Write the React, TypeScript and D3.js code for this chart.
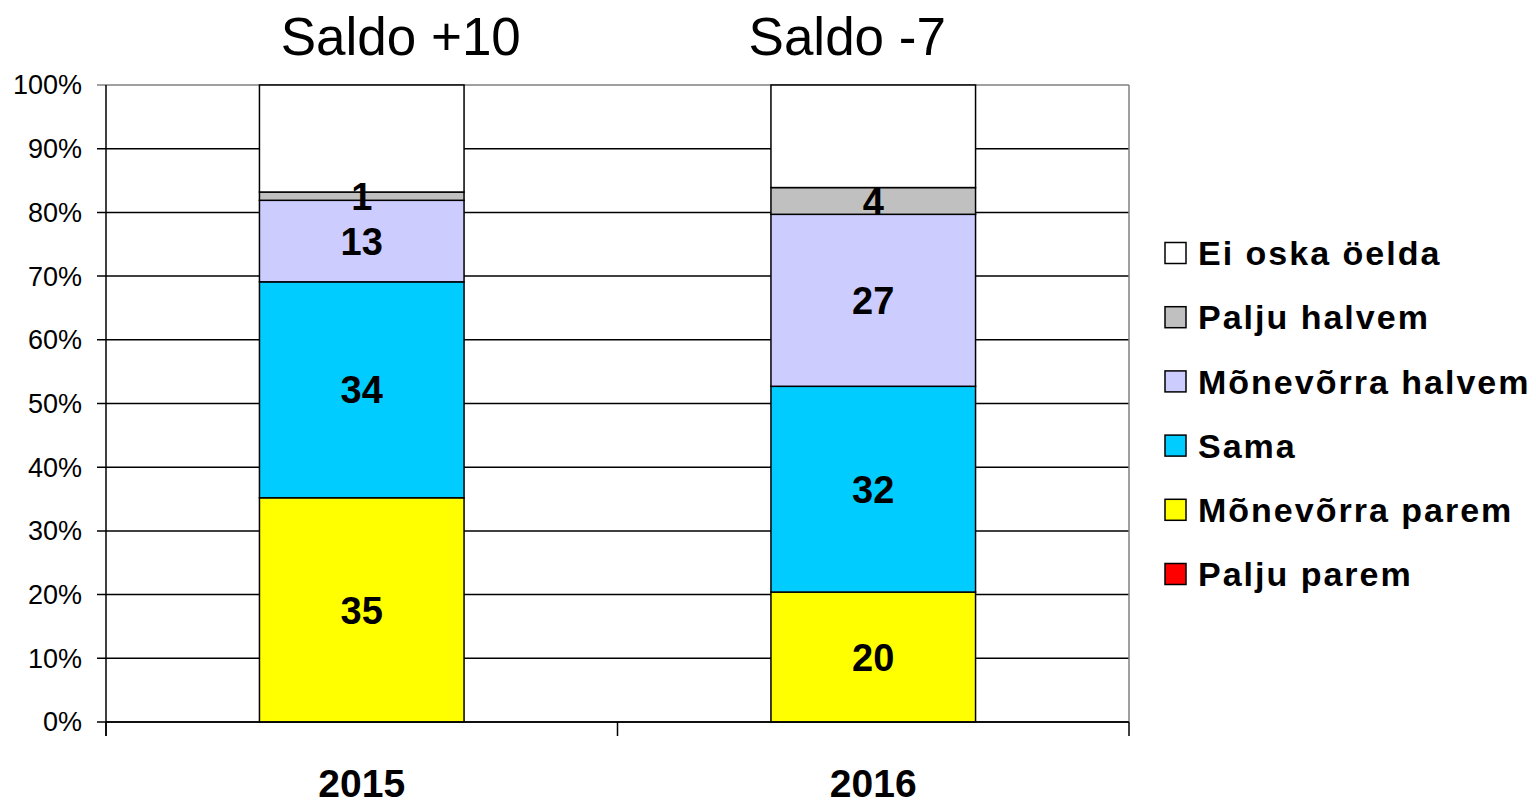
import React from "react";
import * as d3 from "d3";

const years = ["2015", "2016"];
const saldoTitles = ["Saldo +10", "Saldo -7"];

// stacked bottom -> top
const seriesNames = [
  "Palju parem",
  "Mõnevõrra parem",
  "Sama",
  "Mõnevõrra halvem",
  "Palju halvem",
  "Ei oska öelda",
];
const seriesColors = ["#FF0000", "#FFFF00", "#00CCFF", "#CCCCFF", "#C0C0C0", "#FFFFFF"];

const paljuParem = [0, 0];
const monevorraParem = [35.2, 20.4];
const sama = [33.9, 32.3];
const monevorraHalvem = [12.8, 27.0];
const paljuHalvem = [1.3, 4.2];
const eiOska = [16.8, 16.1];

const valueLabels = [
  [null, null],
  ["35", "20"],
  ["34", "32"],
  ["13", "27"],
  ["1", "4"],
  [null, null],
];

const yTicks = [0, 10, 20, 30, 40, 50, 60, 70, 80, 90, 100];

const FONT = "'Liberation Sans', Arial, sans-serif";

const App: React.FC = () => {
  const width = 1536;
  const height = 807;
  const left = 106;
  const right = 1129;
  const top = 85;
  const bottom = 722;

  const x = d3.scaleBand<string>().domain(years).range([left, right]).paddingInner(0.6).paddingOuter(0.3);
  const y = d3.scaleLinear().domain([0, 100]).range([bottom, top]);

  const rows = years.map((yr, i) => ({
    year: yr,
    values: [paljuParem[i], monevorraParem[i], sama[i], monevorraHalvem[i], paljuHalvem[i], eiOska[i]],
  }));

  const stacked = d3
    .stack<{ year: string; values: number[] }, number>()
    .keys(seriesNames.map((_, i) => i))
    .value((d, k) => d.values[k])(rows);

  const titleOffsets = [39, -26];

  return (
    <svg width={width} height={height} style={{ position: "absolute", left: 0, top: 0, background: "#fff" }}>
      {/* gridlines */}
      {yTicks.map((t) => (
        <line
          key={t}
          x1={97}
          x2={right}
          y1={y(t)}
          y2={y(t)}
          stroke={t === 100 ? "#808080" : "#000"}
          strokeWidth={1.5}
        />
      ))}
      {/* right border */}
      <line x1={right} x2={right} y1={top} y2={bottom} stroke="#808080" strokeWidth={1.5} />

      {/* bars */}
      {stacked.map((s, si) =>
        s.map((d, i) => {
          const v = d[1] - d[0];
          if (v <= 0) return null;
          return (
            <rect
              key={`${si}-${i}`}
              x={x(rows[i].year)}
              width={x.bandwidth()}
              y={y(d[1])}
              height={y(d[0]) - y(d[1])}
              fill={seriesColors[si]}
              stroke="#000"
              strokeWidth={1.5}
            />
          );
        })
      )}

      {/* axes */}
      <line x1={left} x2={left} y1={top} y2={736} stroke="#000" strokeWidth={1.5} />
      <line x1={left} x2={right} y1={bottom} y2={bottom} stroke="#000" strokeWidth={1.5} />
      {[left, (left + right) / 2, right].map((px) => (
        <line key={px} x1={px} x2={px} y1={bottom} y2={736} stroke="#000" strokeWidth={1.5} />
      ))}

      {/* y tick labels */}
      {yTicks.map((t) => (
        <text
          key={t}
          x={82}
          y={y(t)}
          dy="0.35em"
          textAnchor="end"
          fontFamily={FONT}
          fontSize={27}
          fill="#000"
        >
          {t}%
        </text>
      ))}

      {/* value labels */}
      {stacked.map((s, si) =>
        s.map((d, i) => {
          const lbl = valueLabels[si][i];
          if (!lbl) return null;
          return (
            <text
              key={`l-${si}-${i}`}
              x={(x(rows[i].year) ?? 0) + x.bandwidth() / 2}
              y={(y(d[0]) + y(d[1])) / 2}
              dy="0.36em"
              textAnchor="middle"
              fontFamily={FONT}
              fontWeight="bold"
              fontSize={38}
              fill="#000"
            >
              {lbl}
            </text>
          );
        })
      )}

      {/* year labels */}
      {years.map((yr) => (
        <text
          key={yr}
          x={(x(yr) ?? 0) + x.bandwidth() / 2}
          y={797}
          textAnchor="middle"
          fontFamily={FONT}
          fontWeight="bold"
          fontSize={39}
          fill="#000"
        >
          {yr}
        </text>
      ))}

      {/* saldo titles */}
      {years.map((yr, i) => (
        <text
          key={`t-${yr}`}
          x={(x(yr) ?? 0) + x.bandwidth() / 2 + titleOffsets[i]}
          y={55}
          textAnchor="middle"
          fontFamily={FONT}
          fontSize={53}
          fill="#000"
        >
          {saldoTitles[i]}
        </text>
      ))}

      {/* legend, top item = last series */}
      {seriesNames
        .map((name, i) => ({ name, color: seriesColors[i] }))
        .reverse()
        .map((item, k) => {
          const cy = 253 + k * 64.2;
          return (
            <g key={item.name}>
              <rect x={1165} y={cy - 10.5} width={21} height={21} fill={item.color} stroke="#000" strokeWidth={1.5} />
              <text
                x={1198}
                y={cy}
                dy="0.36em"
                fontFamily={FONT}
                fontWeight="bold"
                fontSize={34}
                letterSpacing={2}
                fill="#000"
              >
                {item.name}
              </text>
            </g>
          );
        })}
    </svg>
  );
};

export default App;
